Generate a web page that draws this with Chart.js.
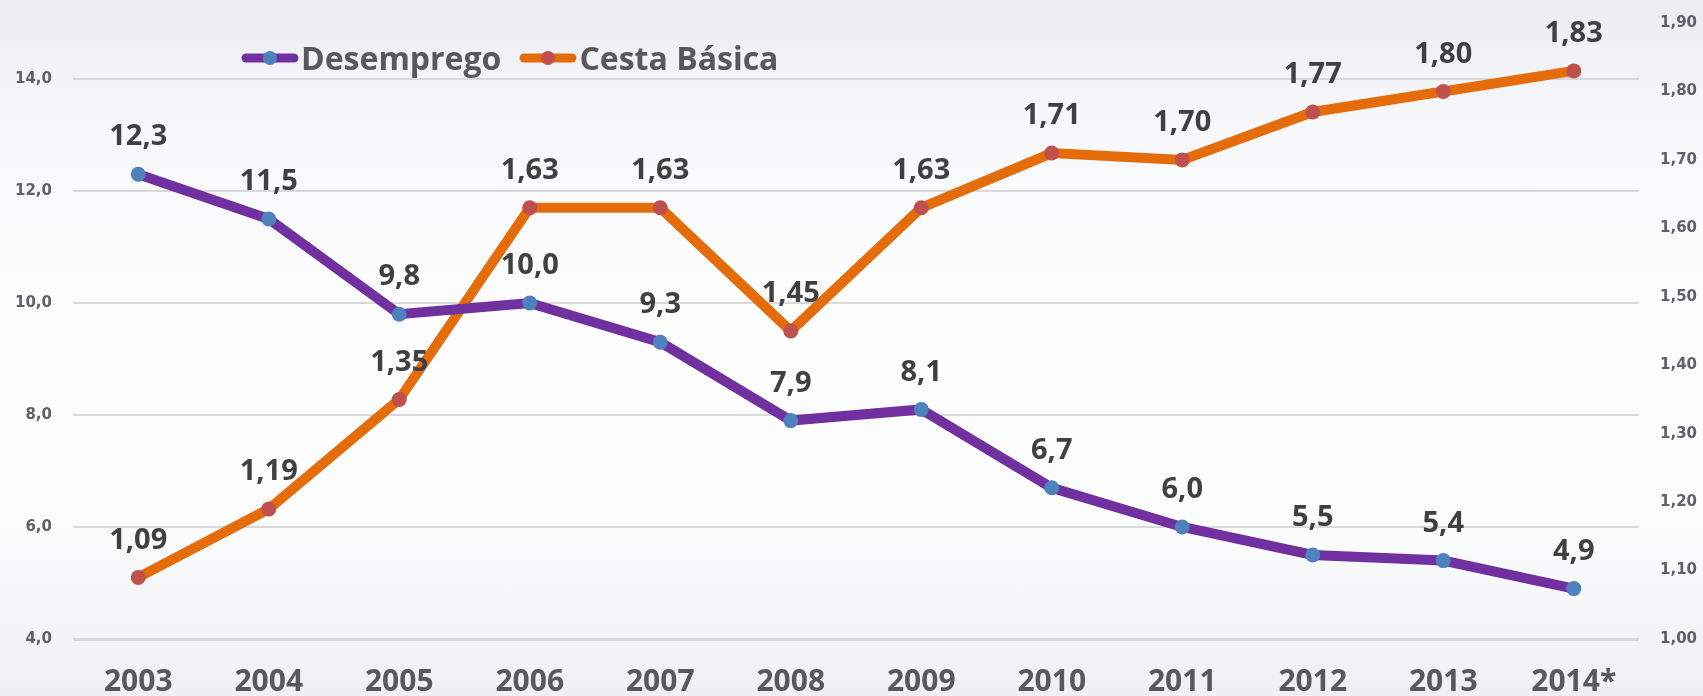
<!DOCTYPE html>
<html lang="pt">
<head>
    <meta charset="UTF-8">
    <title>Desemprego x Cesta Básica</title>
    <script src="https://cdn.jsdelivr.net/npm/chart.js"></script>
    <style>
        html, body {
            margin: 0;
            padding: 0;
        }
        body {
            width: 1703px;
            height: 696px;
            overflow: hidden;
            background: linear-gradient(to bottom, #eaedf1 0%, #f7f8fa 18%, #fdfdfd 45%, #fbfcfc 75%, #eef0f3 100%);
            position: relative;
        }
        .wrap {
            position: absolute;
            left: 0;
            top: 0;
            width: 1703px;
            height: 696px;
        }
        #legend {
            position: absolute;
            left: 241px;
            top: 36px;
            display: flex;
            align-items: center;
            font-family: "Open Sans", sans-serif;
            font-weight: bold;
            font-size: 32px;
            color: #595959;
        }
        .item {
            display: flex;
            align-items: center;
            margin-right: 18px;
        }
        .item canvas {
            margin-right: 2px;
        }
    </style>
</head>
<body>
    <div class="wrap">
        <canvas id="chart" width="1703" height="696"></canvas>
    </div>
    <div id="legend"></div>

    <script>
        // values
        const years = ['2003', '2004', '2005', '2006', '2007', '2008', '2009', '2010', '2011', '2012', '2013', '2014*'];
        const desemprego = [12.3, 11.5, 9.8, 10.0, 9.3, 7.9, 8.1, 6.7, 6.0, 5.5, 5.4, 4.9];
        const cestaBasica = [1.09, 1.19, 1.35, 1.63, 1.63, 1.45, 1.63, 1.71, 1.70, 1.77, 1.80, 1.83];

        const purple = '#7030a0';
        const orange = '#e46c0a';
        const blueDot = '#4f81bd';
        const redDot = '#c0504d';

        const fmt = (v, d) => v.toFixed(d).replace('.', ',');

        // draws the value above each point
        const valueLabels = {
            id: 'valueLabels',
            afterDatasetsDraw(chart) {
                const ctx = chart.ctx;
                ctx.save();
                ctx.font = 'bold 29px "Open Sans", sans-serif';
                ctx.fillStyle = '#404040';
                ctx.textAlign = 'center';
                ctx.textBaseline = 'middle';
                chart.data.datasets.forEach((ds, i) => {
                    const meta = chart.getDatasetMeta(i);
                    meta.data.forEach((pt, j) => {
                        ctx.fillText(fmt(ds.data[j], ds.decimals), pt.x, pt.y - 37);
                    });
                });
                ctx.restore();
            }
        };

        const chart = new Chart(document.getElementById('chart'), {
            type: 'line',
            data: {
                labels: years,
                datasets: [{
                    label: 'Desemprego',
                    data: desemprego,
                    decimals: 1,
                    yAxisID: 'y',
                    borderColor: purple,
                    borderWidth: 10,
                    pointRadius: 7.5,
                    pointBorderWidth: 0,
                    pointBackgroundColor: blueDot,
                    tension: 0
                }, {
                    label: 'Cesta Básica',
                    data: cestaBasica,
                    decimals: 2,
                    yAxisID: 'y1',
                    borderColor: orange,
                    borderWidth: 10,
                    pointRadius: 7.5,
                    pointBorderWidth: 0,
                    pointBackgroundColor: redDot,
                    tension: 0
                }]
            },
            options: {
                responsive: false,
                animation: false,
                layout: { padding: { top: 23, bottom: 0, left: 0, right: 0 } },
                plugins: {
                    legend: { display: false },
                    tooltip: { enabled: false }
                },
                scales: {
                    x: {
                        offset: true,
                        grid: { display: false },
                        border: { display: false },
                        ticks: {
                            padding: 17,
                            color: '#595959',
                            font: { family: '"Open Sans", sans-serif', weight: 'bold', size: 30 }
                        },
                        afterFit: s => { s.height = 57; }
                    },
                    y: {
                        position: 'left',
                        min: 4,
                        max: 15,
                        grid: {
                            color: '#d9d9d9',
                            lineWidth: c => (c.tick && c.tick.value === 4 ? 3 : 2),
                            drawTicks: false
                        },
                        border: { display: false },
                        ticks: {
                            stepSize: 2,
                            includeBounds: false,
                            padding: 21,
                            color: '#5f6068',
                            font: { family: '"DejaVu Sans", sans-serif', weight: 'bold', size: 15 },
                            callback: v => fmt(v, 1)
                        },
                        afterFit: s => { s.width = 73; s.paddingTop = 0; s.paddingBottom = 0; }
                    },
                    y1: {
                        position: 'right',
                        min: 1.0,
                        max: 1.9,
                        grid: { display: false, drawTicks: false },
                        border: { display: false },
                        ticks: {
                            stepSize: 0.1,
                            padding: 21,
                            color: '#5f6068',
                            font: { family: '"DejaVu Sans", sans-serif', weight: 'bold', size: 15 },
                            callback: v => fmt(v, 2)
                        },
                        afterFit: s => { s.width = 64; s.paddingTop = 0; s.paddingBottom = 0; }
                    }
                }
            },
            plugins: [valueLabels]
        });

        // legend in the same place as the reference, built from the datasets
        const legend = document.getElementById('legend');
        chart.data.datasets.forEach(ds => {
            const item = document.createElement('div');
            item.className = 'item';
            const c = document.createElement('canvas');
            c.width = 58;
            c.height = 16;
            const g = c.getContext('2d');
            g.strokeStyle = ds.borderColor;
            g.lineWidth = 9;
            g.lineCap = 'round';
            g.beginPath();
            g.moveTo(5, 8);
            g.lineTo(53, 8);
            g.stroke();
            g.fillStyle = ds.pointBackgroundColor;
            g.beginPath();
            g.arc(29, 8, 7, 0, Math.PI * 2);
            g.fill();
            item.appendChild(c);
            const t = document.createElement('span');
            t.textContent = ds.label;
            item.appendChild(t);
            legend.appendChild(item);
        });
    </script>
</body>
</html>
